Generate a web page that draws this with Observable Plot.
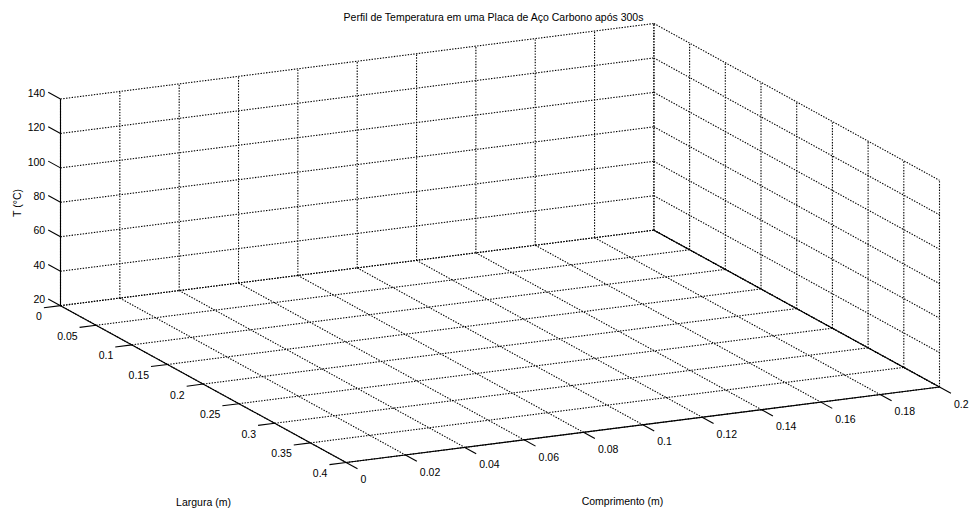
<!DOCTYPE html>
<html>
<head>
<meta charset="utf-8">
<script src="https://cdn.jsdelivr.net/npm/d3@7"></script>
<script src="https://cdn.jsdelivr.net/npm/@observablehq/plot@0.6"></script>
<style>
  html, body { margin: 0; padding: 0; background: #fff; }
  #chart svg { display: block; }
</style>
</head>
<body>
<div id="chart"></div>
<script>
// ---- data (axis ticks of an empty 3-D MATLAB axes) ----
const chartTitle = "Perfil de Temperatura em uma Placa de Aço Carbono após 300s";
const xLabel = "Comprimento (m)";
const yLabel = "Largura (m)";
const zLabel = "T (°C)";

const comprimentoTicks = [0, 0.02, 0.04, 0.06, 0.08, 0.1, 0.12, 0.14, 0.16, 0.18, 0.2];
const comprimentoLabels = ["0", "0.02", "0.04", "0.06", "0.08", "0.1", "0.12", "0.14", "0.16", "0.18", "0.2"];
const larguraTicks = [0, 0.05, 0.1, 0.15, 0.2, 0.25, 0.3, 0.35, 0.4];
const larguraLabels = ["0", "0.05", "0.1", "0.15", "0.2", "0.25", "0.3", "0.35", "0.4"];
const tempTicks = [20, 40, 60, 80, 100, 120, 140];
const tempLabels = ["20", "40", "60", "80", "100", "120", "140"];

const xDomain = [0, 0.2];
const yDomain = [0, 0.4];
const zDomain = [20, 140];

// ---- orthographic 3-D view ----
const az = 25.7 * Math.PI / 180;
const el = 15.4 * Math.PI / 180;
const boxZ = 0.327; // relative height of plot box
const nx = x => (x - xDomain[0]) / (xDomain[1] - xDomain[0]);
const ny = y => (y - yDomain[0]) / (yDomain[1] - yDomain[0]);
const nz = z => (z - zDomain[0]) / (zDomain[1] - zDomain[0]);
function proj(u, v, w) {
  return [
    Math.cos(az) * u + Math.sin(az) * v,
    Math.sin(az) * Math.sin(el) * u - Math.cos(az) * Math.sin(el) * v + boxZ * Math.cos(el) * w
  ];
}
function seg(a, b, extra = {}) {
  const p = proj(...a), q = proj(...b);
  return {x1: p[0], y1: p[1], x2: q[0], y2: q[1], ...extra};
}

// grid (dotted)
const grid = [];
comprimentoTicks.forEach(x => {
  const u = nx(x);
  grid.push(seg([u, 0, 0], [u, 0, 1]));   // back wall vertical
  grid.push(seg([u, 0, 0], [u, 1, 0]));   // floor
});
larguraTicks.forEach(y => {
  const v = ny(y);
  grid.push(seg([1, v, 0], [1, v, 1]));   // right wall vertical
  grid.push(seg([0, v, 0], [1, v, 0]));   // floor
});
tempTicks.forEach(z => {
  const w = nz(z);
  grid.push(seg([0, 0, w], [1, 0, w]));   // back wall horizontal
  grid.push(seg([1, 0, w], [1, 1, w]));   // right wall horizontal
});

// solid axis lines
const axes = [
  seg([0, 0, 0], [0, 0, 1]),   // z axis
  seg([0, 0, 0], [0, 1, 0]),   // largura axis
  seg([0, 1, 0], [1, 1, 0]),   // comprimento axis
  seg([1, 0, 0], [1, 1, 0])    // right floor edge
];

// ticks + labels
const ticks = [];
const labelsX = [], labelsY = [], labelsZ = [];
const tz = 0.043, ty = 0.028, tx = 0.04;
tempTicks.forEach((z, i) => {
  const w = nz(z);
  const s = seg([0, 0, w], [0, -tz, w]);
  ticks.push(s);
  labelsZ.push({x: s.x2, y: s.y2, text: tempLabels[i]});
});
larguraTicks.forEach((y, i) => {
  const v = ny(y);
  const s = seg([0, v, 0], [-ty, v, 0]);
  ticks.push(s);
  labelsY.push({x: s.x2, y: s.y2, text: larguraLabels[i]});
});
comprimentoTicks.forEach((x, i) => {
  const u = nx(x);
  const s = seg([u, 1, 0], [u, 1 + tx, 0]);
  ticks.push(s);
  labelsX.push({x: s.x2, y: s.y2, text: comprimentoLabels[i]});
});

// scale domains = projected extent of plot box
const corners = [];
for (const u of [0, 1]) for (const v of [0, 1]) for (const w of [0, 1]) corners.push(proj(u, v, w));
const xExt = d3.extent(corners, c => c[0]);
const yExt = d3.extent(corners, c => c[1]);

const fontSize = 10.5;
const chart = Plot.plot({
  width: 970,
  height: 512,
  marginLeft: 60,
  marginRight: 31,
  marginTop: 23,
  marginBottom: 50,
  x: {domain: xExt, axis: null},
  y: {domain: yExt, axis: null},
  style: {fontFamily: "'Liberation Sans', Arial, Helvetica, sans-serif", fontSize: fontSize + "px", background: "#fff", color: "#000"},
  marks: [
    Plot.link(grid, {x1: "x1", y1: "y1", x2: "x2", y2: "y2", stroke: "#000", strokeWidth: 1.1, strokeDasharray: "1.4,1.4"}),
    Plot.link(axes, {x1: "x1", y1: "y1", x2: "x2", y2: "y2", stroke: "#000", strokeWidth: 1.1}),
    Plot.link(ticks, {x1: "x1", y1: "y1", x2: "x2", y2: "y2", stroke: "#000", strokeWidth: 1.1}),
    Plot.text(labelsZ, {x: "x", y: "y", text: "text", textAnchor: "end", dx: -3, dy: 1, fill: "#000"}),
    Plot.text(labelsY, {x: "x", y: "y", text: "text", textAnchor: "end", dx: -2, dy: 9, fill: "#000"}),
    Plot.text(labelsX, {x: "x", y: "y", text: "text", textAnchor: "start", dx: 3, dy: 11, fill: "#000"}),
    Plot.text([chartTitle], {frameAnchor: "top", dx: -6.5, dy: -10, fill: "#000"}),
    Plot.text([yLabel], {frameAnchor: "bottom-left", dx: 143, dy: 43, textAnchor: "middle", fill: "#000"}),
    Plot.text([xLabel], {frameAnchor: "bottom-left", dx: 562, dy: 42, textAnchor: "middle", fill: "#000"}),
    Plot.text([zLabel], {frameAnchor: "left", dx: -43, dy: -40, rotate: -90, textAnchor: "middle", fill: "#000"})
  ]
});
document.getElementById("chart").appendChild(chart);
</script>
</body>
</html>
